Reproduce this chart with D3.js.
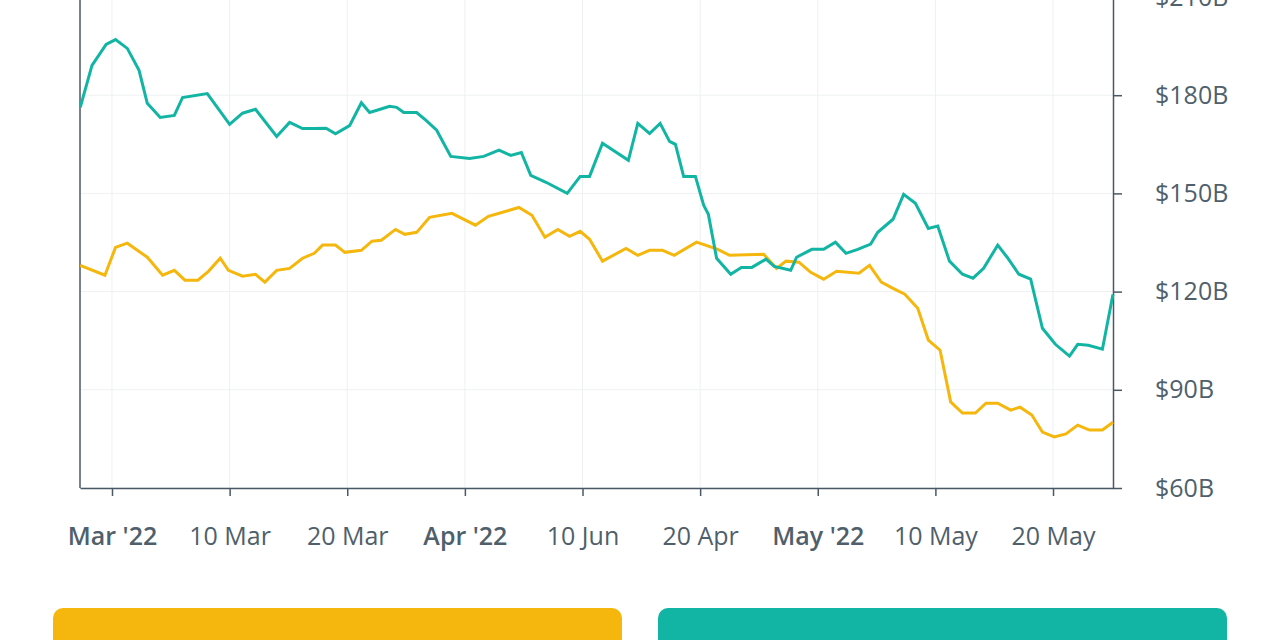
<!DOCTYPE html><html><head><meta charset="utf-8">
<script src="https://cdn.jsdelivr.net/npm/d3@7"></script>
<style>body{margin:0;background:#fff}svg{display:block}text{font-family:"Open Sans",sans-serif}</style>
</head><body><svg width="1280" height="640"></svg><script>
const tickLabels=["Mar '22","10 Mar","20 Mar","Apr '22","10 Jun","20 Apr","May '22","10 May","20 May"];
const boldTicks=["Mar '22","Apr '22","May '22"];
const yTicks=[60,90,120,150,180,210];
const tealX=[-2.7,-1.7,-0.5,0.3,1.3,2.3,3.0,4.1,5.3,6.0,8.1,10.0,11.1,12.2,14.0,15.1,16.2,17.2,18.2,19.0,20.2,21.2,21.9,22.8,23.6,24.2,24.8,25.9,26.7,27.6,28.8,30.4,31.6,32.9,33.9,34.8,35.6,36.9,38.7,39.8,40.6,41.7,43.9,44.7,45.7,46.6,47.4,47.9,48.6,49.6,50.3,50.7,51.4,52.6,53.5,54.4,55.6,56.3,57.7,58.2,59.5,60.5,61.5,62.4,63.4,64.5,65.1,66.4,67.3,68.3,69.4,70.2,71.2,72.3,73.2,74.1,75.3,76.1,77.1,78.1,79.1,80.2,81.4,82.1,83.0,84.2,85.1];
const tealV=[176.3,189.1,195.5,197.0,194.3,187.6,177.5,173.2,173.8,179.3,180.5,171.1,174.5,175.7,167.4,171.7,169.8,169.8,169.9,168.2,170.7,177.7,174.7,175.7,176.6,176.3,174.7,174.7,172.3,169.3,161.3,160.7,161.3,163.2,161.6,162.5,155.5,153.4,150.0,155.2,155.2,165.3,160.1,171.4,168.3,171.4,165.9,165.0,155.2,155.2,146.4,143.6,130.2,125.3,127.4,127.4,129.9,127.7,126.5,130.5,132.9,132.9,135.1,131.7,132.9,134.5,138.1,142.1,149.7,147.0,139.3,140.0,129.3,125.3,124.1,127.1,134.2,130.5,125.3,123.8,108.8,103.9,100.3,103.9,103.6,102.4,119.2];
const goldX=[-2.7,-0.6,0.3,1.3,3.0,4.3,5.3,6.2,7.3,8.2,9.2,9.9,11.1,12.2,13.0,14.0,15.1,16.2,17.2,17.9,19.0,19.8,21.2,22.1,22.9,24.1,24.9,25.9,27.0,28.9,30.9,32.0,34.6,35.7,36.8,37.9,38.9,39.8,40.6,41.7,43.7,44.7,45.7,46.8,47.8,49.7,51.5,52.5,55.4,56.5,57.3,58.4,59.4,60.5,61.6,63.5,64.4,65.4,66.4,67.4,68.5,69.4,70.4,71.3,72.3,73.4,74.3,75.3,76.4,77.2,78.2,79.1,80.1,81.1,82.1,83.1,84.2,85.1];
const goldV=[128.0,125.0,133.5,134.8,130.5,125.0,126.5,123.5,123.5,126.2,130.2,126.5,124.7,125.3,122.9,126.5,127.1,130.2,131.7,134.2,134.2,132.0,132.6,135.4,135.7,139.0,137.5,138.1,142.7,143.9,140.3,143.0,145.7,143.3,136.6,139.0,136.9,138.4,136.0,129.3,133.2,131.1,132.6,132.6,131.1,135.1,132.9,131.1,131.4,127.1,129.3,129.0,125.9,123.8,126.2,125.6,128.0,122.9,121.0,119.2,114.9,105.2,102.1,86.3,82.9,82.9,85.9,85.9,83.8,84.7,82.3,77.1,75.6,76.5,79.2,77.7,77.7,80.1];
const svg=d3.select("svg");
const L=80,R=1113,T=-3,B=488;
const x=d3.scaleLinear().domain([-2.72,85.1]).range([L,R]);
const y=d3.scaleLinear().domain([60,210]).range([B,T]);
const tickPos=tickLabels.map((_,i)=>i*10);
svg.append("g").selectAll("line").data(tickPos).join("line").attr("x1",d=>x(d)).attr("x2",d=>x(d)).attr("y1",T).attr("y2",B).attr("stroke","#eef0f2");
svg.append("g").selectAll("line").data(yTicks).join("line").attr("x1",L).attr("x2",R).attr("y1",d=>y(d)).attr("y2",d=>y(d)).attr("stroke","#eef0f2");
const ax="#4a5866";
svg.append("g").attr("transform",`translate(0,${B})`).call(d3.axisBottom(x).tickValues(tickPos).tickFormat((d,i)=>tickLabels[i]).tickSize(8).tickPadding(31).tickSizeOuter(0))
 .call(g=>{g.select(".domain").attr("stroke",ax).attr("stroke-width",1.5);g.selectAll("line").attr("stroke",ax).attr("stroke-width",1.5);
 g.selectAll("text").attr("font-size",25).attr("fill","#4f5f6b").attr("font-weight",(d,i)=>boldTicks.includes(tickLabels[i])?600:400);});
svg.append("g").attr("transform",`translate(${R},0)`).call(d3.axisRight(y).tickValues(yTicks).tickFormat(d=>"$"+d+"B").tickSize(9).tickPadding(33).tickSizeOuter(0))
 .call(g=>{g.select(".domain").attr("stroke",ax).attr("stroke-width",1.5);g.selectAll("line").attr("stroke",ax).attr("stroke-width",1.5);
 g.selectAll("text").attr("font-size",25).attr("fill","#4f5f6b");});
svg.append("line").attr("x1",L).attr("x2",L).attr("y1",T).attr("y2",B).attr("stroke",ax).attr("stroke-width",1.5);
const line=d3.line().x(d=>x(d[0])).y(d=>y(d[1]));
svg.append("path").datum(goldX.map((d,i)=>[d,goldV[i]])).attr("d",line).attr("fill","none").attr("stroke","#f5b70d").attr("stroke-width",3);
svg.append("path").datum(tealX.map((d,i)=>[d,tealV[i]])).attr("d",line).attr("fill","none").attr("stroke","#12b5a4").attr("stroke-width",3);
svg.append("rect").attr("x",53).attr("y",608).attr("width",569).attr("height",60).attr("rx",10).attr("fill","#f5b70d");
svg.append("rect").attr("x",658).attr("y",608).attr("width",569).attr("height",60).attr("rx",10).attr("fill","#12b5a4");
</script></body></html>
